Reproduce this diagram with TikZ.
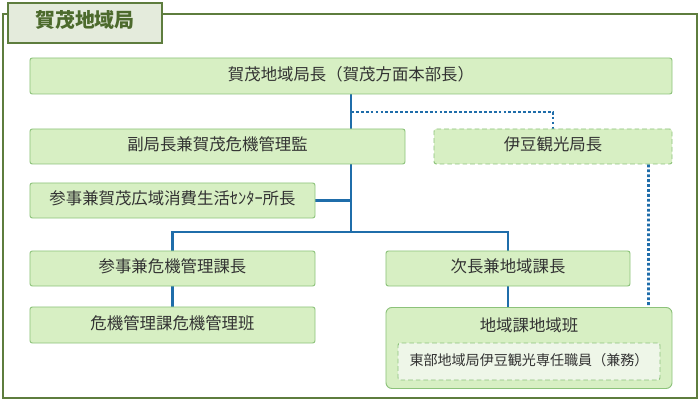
\documentclass[tikz,border=0pt]{standalone}
\usepackage{fontspec}
\setmainfont{Noto Sans CJK JP}
\usetikzlibrary{positioning, backgrounds}
\definecolor{framegreen}{HTML}{5E7D3E}
\definecolor{titlefill}{HTML}{E4EBDC}
\definecolor{titletext}{HTML}{4C6A2C}
\definecolor{boxfill}{HTML}{D7EFC3}
\definecolor{boxline}{HTML}{8CC27A}
\definecolor{stafffill}{HTML}{EEF6E8}
\definecolor{linkblue}{HTML}{1F6DAA}
\definecolor{textgray}{HTML}{333333}

\tikzset{
  orgbox/.style={draw=boxline, fill=boxfill, rounded corners=2pt, line width=0.8pt, inner sep=0pt, minimum height=1.05cm, text=textgray, font=\fontsize{14}{16}\selectfont, text height=0.86em, text depth=0.14em},
  dashbox/.style={orgbox, dash pattern=on 4pt off 2.5pt},
  link/.style={draw=linkblue, line width=2.4pt},
  dotlink/.style={draw=linkblue, line width=2.4pt, dash pattern=on 2.4pt off 1.8pt},
}

\begin{document}
\begin{tikzpicture}[x=0.03cm, y=-0.03cm]
  \useasboundingbox (0,0) rectangle (700,401);
  % outer frame and title tab
  \draw[framegreen, line width=2.4pt] (3,14) rectangle (697,398);
  \node (title) [draw=framegreen, fill=titlefill, line width=2.4pt, minimum width=4.62cm, minimum height=1.2cm, inner sep=0pt, text=titletext, font=\fontsize{17}{20}\selectfont\bfseries, text height=0.86em, text depth=0.14em] at (85,23) {賀茂地域局};

  % boxes
  \node (chief) [orgbox, minimum width=19.26cm, minimum height=1.08cm] at (351,76) {賀茂地域局長（賀茂方面本部長）};
  \node (deputy) [orgbox, minimum width=11.25cm] at (217.5,146.5) {副局長兼賀茂危機管理監};
  \node (izuhead) [dashbox, minimum width=7.14cm] at (553,146.5) {伊豆観光局長};
  \node (consumer) [orgbox, minimum width=8.55cm] at (172.5,200.5) {参事兼賀茂広域消費生活ｾﾝﾀｰ所長};
  \node (crisis) [orgbox, minimum width=8.55cm] at (172.5,268.5) {参事兼危機管理課長};
  \node (vice) [orgbox, minimum width=7.32cm] at (508,268.5) {次長兼地域課長};
  \node (crisisteam) [orgbox, minimum width=8.55cm, minimum height=1.08cm] at (172.5,325) {危機管理課危機管理班};
  \node (regionteam) [orgbox, rounded corners=5pt, anchor=north, minimum width=8.58cm, minimum height=0pt, inner ysep=0pt, text height=0.72cm, text depth=1.71cm] at (529,307) {地域課地域班};
  \node (izustaff) [dashbox, fill=stafffill, minimum width=7.86cm, minimum height=1.11cm, font=\fontsize{12}{14}\selectfont] at (529,361.5) {東部地域局伊豆観光専任職員（兼務）};

  % connectors
  \begin{scope}[on background layer]
    \coordinate (hub) at (chief.south |- 0,232);
    \coordinate (tap) at (chief.south |- 0,112);
    \draw[link] (chief.south) -- (hub);
    \draw[link] (consumer.east) -- (consumer.east -| hub);
    \draw[link] (crisis.north) |- (hub) -| (vice.north);
    \draw[link] (crisis.south) -- (crisisteam.north);
    \draw[link] (vice.south) -- (vice.south |- regionteam.north);
    \draw[dotlink] (tap) -| (izuhead.north);
    \draw[dotlink] ([xshift=-0.72cm]izuhead.south east) -- ([xshift=-0.36cm]izustaff.north east);
  \end{scope}
\end{tikzpicture}
\end{document}
